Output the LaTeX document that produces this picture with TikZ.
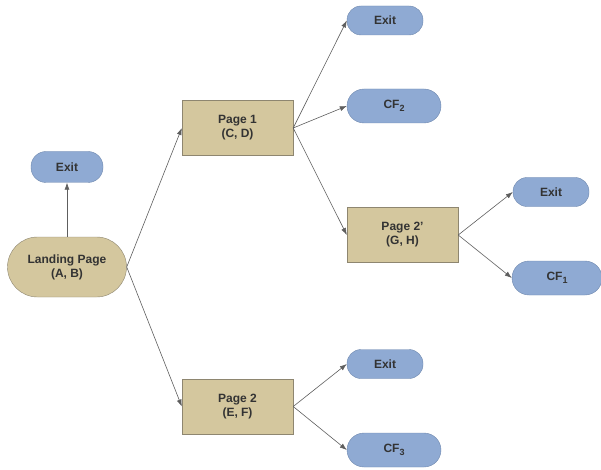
\documentclass[tikz,border=0pt]{standalone}
\usepackage{tikz}
\usepackage{xcolor}
\usepackage{fontspec}
\setmainfont{Liberation Sans}
\usetikzlibrary{arrows.meta}
\newcommand{\cfsub}[1]{\raisebox{-0.5ex}{\fontsize{9}{9}\selectfont #1}}

\begin{document}
\begin{tikzpicture}[x=1pt,y=-1pt,
  pagebox/.style={rectangle,draw=pageline,fill=pagetan,minimum width=111pt,minimum height=55pt,align=center,inner sep=0pt},
  endbox/.style={rectangle,draw=endline,fill=endblue,rounded corners=14pt,minimum width=76pt,minimum height=29pt,inner sep=0pt},
  cfbox/.style={endbox,rounded corners=17pt,minimum width=94pt,minimum height=34pt},
  link/.style={draw=linkgray,line width=0.6pt,-{Latex[length=7pt,width=5pt]}},
  font=\fontsize{12}{14}\selectfont\bfseries\color{textgray}]
\definecolor{pagetan}{HTML}{D4C79E}
\definecolor{pageline}{HTML}{8E8670}
\definecolor{endblue}{HTML}{8FAAD3}
\definecolor{endline}{HTML}{6F88AE}
\definecolor{linkgray}{HTML}{5E5E5E}
\definecolor{textgray}{HTML}{333333}
\useasboundingbox (0,0) rectangle (601,470);
\node [pagebox,fill=pagetan,rounded corners=30pt,minimum width=119pt,minimum height=60pt] (landing) at (67,267) {Landing Page\\(A, B)};
\node [endbox,minimum width=72pt,minimum height=31pt,rounded corners=15pt] (exitl) at (67,167) {Exit};
\node [pagebox] (page1) at (237.5,128) {Page 1\\(C, D)};
\node [pagebox] (page2) at (237.5,406.5) {Page 2\\(E, F)};
\node [pagebox] (page2b) at (402.5,235) {Page 2'\\(G, H)};
\node [endbox] (exit1) at (385,20.5) {Exit};
\node [cfbox] (cf2) at (394,106) {CF\cfsub{2}};
\node [endbox] (exit2) at (551,192) {Exit};
\node [cfbox,minimum width=90pt] (cf1) at (557,278) {CF\cfsub{1}};
\node [endbox] (exit3) at (385,364) {Exit};
\node [cfbox] (cf3) at (394,450) {CF\cfsub{3}};
\draw [link] (landing.north) -- (exitl.south);
\foreach \src/\dst in {landing/page1,landing/page2,page1/exit1,page1/cf2,page1/page2b,page2b/exit2,page2b/cf1,page2/exit3,page2/cf3}
  {  \draw [link] (\src.east) -- (\dst.west);}
\end{tikzpicture}
\end{document}
